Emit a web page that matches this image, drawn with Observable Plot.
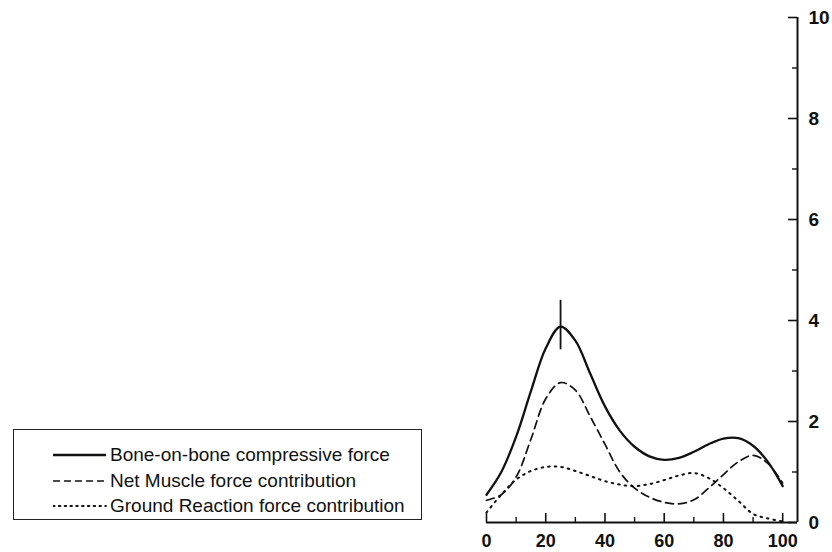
<!DOCTYPE html>
<html><head><meta charset="utf-8">
<script src="https://cdn.jsdelivr.net/npm/d3@7"></script>
<script src="https://cdn.jsdelivr.net/npm/@observablehq/plot@0.6"></script>
<style>
body{margin:0;background:#fff;}
#wrap{position:relative;width:832px;height:552px;font-family:"Liberation Sans",Arial,sans-serif;color:#111;}
#wrap svg.plot{position:absolute;left:0;top:0;}
.lg-box{position:absolute;left:13px;top:429px;width:409px;height:91px;border:1.5px solid #222;box-sizing:border-box;}
.lg-row{position:absolute;left:53px;height:22px;display:flex;align-items:center;white-space:nowrap;}
.lg-row svg{width:54px;height:22px;flex:none;margin-right:3px;}
.lg-row span{font-size:19px;line-height:22px;}
</style></head><body><div id="wrap"></div>
<script>
// ---- data ----
const xs      = [0, 5, 10, 15, 20, 25, 30, 35, 40, 45, 50, 55, 60, 65, 70, 75, 80, 85, 90, 95, 100];
const bone    = [0.55, 1.0, 1.7, 2.6, 3.45, 3.88, 3.6, 2.95, 2.3, 1.82, 1.5, 1.31, 1.24, 1.28, 1.4, 1.55, 1.66, 1.67, 1.52, 1.2, 0.72];
const muscle  = [0.44, 0.55, 0.9, 1.65, 2.45, 2.77, 2.62, 2.1, 1.55, 1.0, 0.68, 0.5, 0.4, 0.37, 0.45, 0.68, 0.95, 1.2, 1.33, 1.17, 0.78];
const ground  = [0.2, 0.55, 0.85, 1.02, 1.1, 1.1, 1.02, 0.92, 0.82, 0.75, 0.72, 0.76, 0.84, 0.93, 0.98, 0.88, 0.68, 0.43, 0.17, 0.08, 0.02];
const seriesNames = ["Bone-on-bone compressive force", "Net Muscle force contribution", "Ground Reaction force contribution"];
const errX = [25], errLow = [3.42], errHigh = [4.40];
const xTicks = [0, 20, 40, 60, 80, 100];
const xMinor = [10, 30, 50, 70, 90];
const yTicks = [0, 2, 4, 6, 8, 10];
const yMinor = [1, 3, 5, 7, 9];
const xMax = 105, yMax = 10;

// ---- layout ----
const W = 832, H = 552, mL = 486, mR = 35, mT = 17, mB = 30;
const pxX = (W - mL - mR) / xMax, pxY = (H - mT - mB) / yMax;

const toRows = (vals) => xs.map((x, i) => ({x, y: vals[i]}));
const err = errX.map((x, i) => ({x, lo: errLow[i], hi: errHigh[i]}));

const chart = Plot.plot({
  width: W, height: H,
  marginLeft: mL, marginRight: mR, marginTop: mT, marginBottom: mB,
  x: {domain: [0, xMax], axis: null},
  y: {domain: [0, yMax], axis: null},
  style: {fontFamily: '"Liberation Sans", Arial, sans-serif', color: "#111", background: "transparent", overflow: "visible"},
  marks: [
    // axes lines
    Plot.ruleY([0], {x1: 0, x2: xMax, stroke: "#111", strokeWidth: 2}),
    Plot.ruleX([xMax], {y1: 0, y2: yMax, stroke: "#111", strokeWidth: 2}),
    // x ticks (inward)
    Plot.ruleX(xTicks, {y1: 0, y2: 9 / pxY, stroke: "#111", strokeWidth: 1.6}),
    Plot.ruleX(xMinor, {y1: 0, y2: 5 / pxY, stroke: "#111", strokeWidth: 1.4}),
    // y ticks (inward, to the left)
    Plot.ruleY(yTicks, {x1: xMax - 9 / pxX, x2: xMax, stroke: "#111", strokeWidth: 1.6}),
    Plot.ruleY(yMinor, {x1: xMax - 5 / pxX, x2: xMax, stroke: "#111", strokeWidth: 1.4}),
    // tick labels
    Plot.text(xTicks, {x: d => d, y: 0, dy: 19, text: d => String(d), fontSize: 18, fontWeight: "bold", fill: "#111"}),
    Plot.text(yTicks, {x: xMax, y: d => d, dx: 11, text: d => String(d), textAnchor: "start", fontSize: 19, fontWeight: "bold", fill: "#111"}),
    // curves
    Plot.line(toRows(ground), {x: "x", y: "y", curve: "catmull-rom", stroke: "#111", strokeWidth: 2, strokeDasharray: "1.6,5", strokeLinecap: "round"}),
    Plot.line(toRows(muscle), {x: "x", y: "y", curve: "catmull-rom", stroke: "#111", strokeWidth: 1.7, strokeDasharray: "8,5"}),
    Plot.line(toRows(bone), {x: "x", y: "y", curve: "catmull-rom", stroke: "#111", strokeWidth: 2.3}),
    // error bar
    Plot.ruleX(err, {x: "x", y1: "lo", y2: "hi", stroke: "#111", strokeWidth: 1.8})
  ]
});
chart.classList.add("plot");
const wrap = document.getElementById("wrap");
wrap.appendChild(chart);

// ---- legend ----
const box = document.createElement("div");
box.className = "lg-box";
wrap.appendChild(box);
const dashes = ["", "7,4", "1.6,4.2"];
const widths = [2.4, 1.6, 1.8];
const rowCenters = [455, 481, 506];
seriesNames.forEach((name, i) => {
  const row = document.createElement("div");
  row.className = "lg-row";
  row.style.top = (rowCenters[i] - 11) + "px";
  row.innerHTML = `<svg viewBox="0 0 54 22"><line x1="0" x2="53" y1="11" y2="11" stroke="#111" stroke-width="${widths[i]}" ${dashes[i] ? `stroke-dasharray="${dashes[i]}"` : ""} ${i === 2 ? 'stroke-linecap="round"' : ""}/></svg><span>${name}</span>`;
  wrap.appendChild(row);
});
</script>
</body></html>
